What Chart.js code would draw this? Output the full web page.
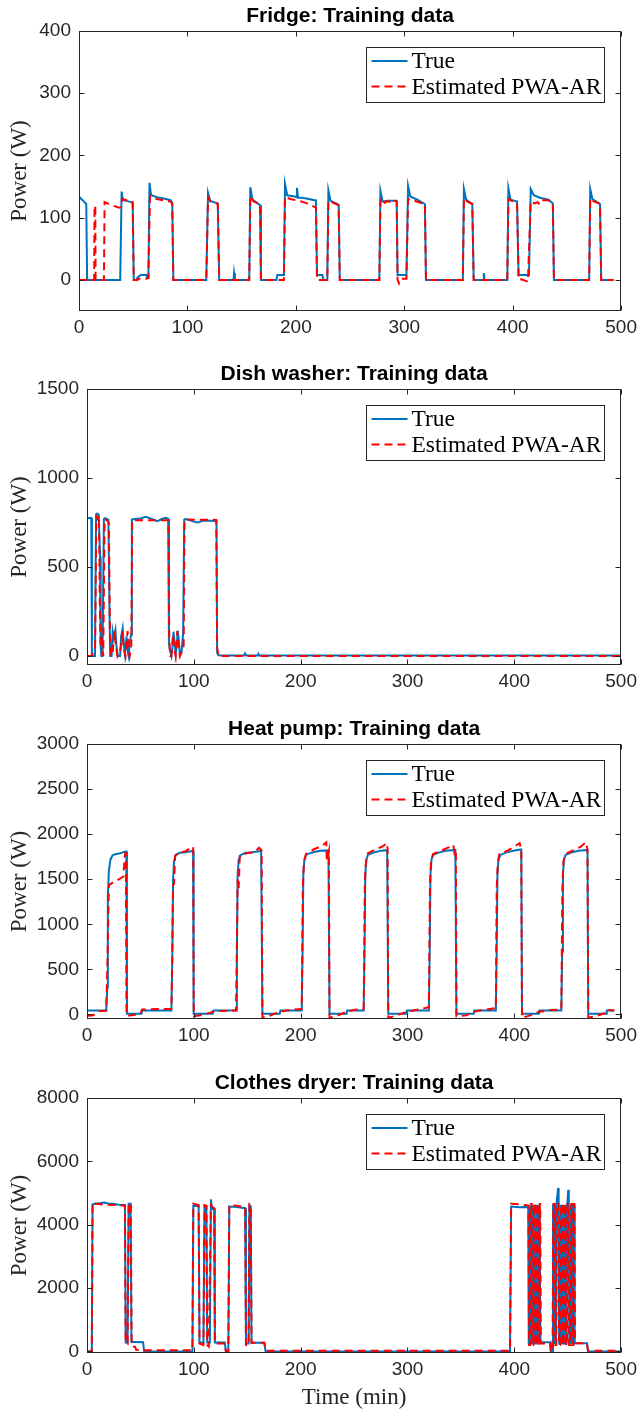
<!DOCTYPE html>
<html><head><meta charset="utf-8">
<script src="https://cdn.jsdelivr.net/npm/chart.js"></script>
<style>
html,body{margin:0;padding:0;background:#fff;width:642px;height:1409px;overflow:hidden}
#wrap{position:relative;width:642px;height:1409px}
#wrap canvas{position:absolute;left:0}
</style></head><body><div id="wrap">
<canvas id="c1"></canvas><canvas id="c2"></canvas><canvas id="c3"></canvas><canvas id="c4"></canvas>
</div>
<script>
// ---------- tick labels ----------
const timeTicks = [0,100,200,300,400,500];
const fridgeTicks = [0,100,200,300,400];
const dishTicks = [0,500,1000,1500];
const heatTicks = [0,500,1000,1500,2000,2500,3000];
const dryerTicks = [0,2000,4000,6000,8000];
const seriesLabels = ['True','Estimated PWA-AR'];

// ---------- series values [time (min), power (W)] ----------
const fridgeTrue = [[0,134],[2,130],[4,127],[6.7,122],[7.5,0],[38,0],[39.3,142],[40.5,128],[44,127],[48,125],[49.5,124],[50.5,0],[53,0],[54,4],[57,8],[62,8],[63,3],[64,3],[65,156],[66.5,136],[72,133],[80,130],[84.5,128],[86,124],[87,0],[117.4,0],[119,140],[121,127],[128,123],[129.3,0],[142.5,0],[143,11],[143.8,0],[157,0],[158,149],[160,129],[167,120],[167.8,0],[182,0],[183,8],[189,8],[190,154],[192,136],[199,134],[200.5,133],[201,148],[202,132],[206,132],[212,130],[217,128],[218.5,128],[219.5,8],[224.5,8],[225.5,0],[229,0],[230,144],[232,127],[238,122],[239.5,120],[240.5,0],[277,0],[278,143],[280,126],[285,127],[290,127],[293,127],[293.8,8],[302,8],[303.5,151],[305.5,134],[312,129],[319,122],[320,0],[354,0],[355,146],[357,129],[362.7,122],[364,0],[373,0],[373.4,11],[374,0],[395,0],[396,147],[398,129],[404,126],[405.4,8],[415,8],[416.6,146],[419.5,136],[425,132],[433,129],[437,123],[438,0],[470.5,0],[471.5,146],[473.5,130],[480.5,122],[481.6,0],[493,0]];
const fridgeEst = [[0,0],[14,0],[14.3,119],[15,119],[15.3,0],[23,0],[23.6,125],[30,120],[37,116],[38.8,117],[39.8,130],[44,128],[48,126],[49.5,125],[50.5,0],[54,0],[55,2],[62,2],[64,3],[65.5,135],[72,130],[80,127],[84.5,126],[86,122],[87,0],[117.4,0],[119,133],[121,126],[128,122],[129.3,0],[157,0],[158,135],[161,126],[167,122],[167.8,0],[189,0],[190,133],[195,130],[205,126],[212,122],[218.5,116],[219.5,0],[229,0],[230,127],[233,125],[239.5,120],[240.5,0],[277,0],[278,131],[282,124],[285,127],[288,123],[291,127],[293,126],[293.8,0],[295,-5],[296,2],[302,2],[303.5,130],[308,128],[315,124],[319,122],[320,0],[354,0],[355,131],[358,126],[362.7,122],[364,0],[395,0],[396,130],[399,127],[404,124],[405.4,0],[408,1],[414,-3],[416.6,126],[420,123],[423,125],[425,121],[428,128],[433,128],[437,123],[438,0],[470.5,0],[471.5,131],[474,127],[480.5,122],[481.6,0],[493,0]];

const dishTrue = [[0,776],[4,776],[4.6,0],[7.5,0],[8.5,790],[9.5,800],[11,795],[12.2,560],[12.8,50],[13.5,0],[14.5,0],[15.8,770],[17,775],[20,765],[21.2,200],[21.7,0],[23,0],[24,137],[25,100],[26.6,147],[27.5,60],[28.8,0],[31,0],[32,110],[33.4,156],[34.5,60],[35.5,10],[37,109],[38.3,20],[39,0],[40,71],[41.2,120],[42,767],[45,770],[50,773],[55,782],[60,772],[66,758],[70,770],[74,776],[76,770],[76.7,80],[77.5,34],[79,0],[80,50],[81,137],[82,80],[83,10],[84,60],[85,143],[86,80],[87,10],[88.5,20],[90,128],[91,767],[92,770],[95,766],[100,755],[104,750],[108,760],[112,762],[116,760],[120,758],[121.2,758],[121.8,20],[123,5],[130,4],[147,4],[148,15],[149,4],[160,4],[160.5,12],[161.2,4],[500,4]];
const dishEst = [[0,0],[4,0],[5,10],[6,20],[7.5,30],[8.7,784],[10,770],[11.2,790],[12,300],[12.7,50],[13.5,120],[14.2,50],[15.2,0],[16.5,770],[18,765],[20.5,750],[21.5,100],[22.5,0],[24,20],[25.6,140],[27,60],[28.5,0],[30,20],[31.5,40],[33,140],[34.5,40],[36,0],[38,140],[39,40],[40,0],[41.5,60],[42.3,763],[76.3,763],[77,100],[78,0],[79,0],[80.5,120],[82,30],[83,0],[84.5,140],[86,40],[87,0],[89,30],[90.5,60],[91.3,767],[121,765],[121.8,50],[123,0],[500,0]];

const heatTrue = [[0,44],[18,44],[19,300],[19.5,1300],[20.5,1600],[22,1720],[24,1765],[26.6,1778],[30,1785],[33,1795],[36,1808],[36.8,1808],[37.4,7],[51,7],[51.5,44],[79,44],[79.8,600],[80.6,1500],[81.5,1700],[83,1770],[87,1793],[92,1800],[98.7,1812],[99.3,1812],[99.8,7],[117.7,7],[118.3,44],[139.5,44],[140.3,700],[141,1550],[142,1720],[144,1770],[148,1790],[155,1800],[163,1815],[163.6,1815],[164.2,7],[180.4,7],[181,44],[201,44],[201.8,700],[202.5,1550],[203.5,1720],[205,1770],[210,1795],[218,1815],[226,1820],[226.4,1820],[227,7],[243,7],[243.5,44],[259,44],[259.8,700],[260.5,1550],[261.5,1720],[263,1770],[268,1795],[275,1815],[281,1822],[281.4,1822],[282,7],[299,7],[299.5,44],[320,44],[320.8,700],[321.5,1550],[322.5,1720],[324,1770],[329,1795],[336,1815],[344.8,1825],[345.2,1825],[345.8,7],[362,7],[362.5,44],[382.7,44],[383.5,700],[384.2,1550],[385.2,1720],[387,1770],[392,1795],[399,1815],[406,1830],[406.5,1830],[407.2,7],[423,7],[423.5,44],[444,44],[444.8,700],[445.5,1550],[446.5,1720],[448,1770],[453,1795],[460,1815],[468,1825],[468.5,1825],[469.2,7],[486,7],[486.5,44],[493.6,44]];
const heatEst = [[0,-15],[5,-10],[9,10],[11,35],[18,44],[19,500],[20.5,1435],[25,1470],[30,1500],[34,1528],[35,1700],[35.8,1790],[36.4,1790],[37,-10],[40,-10],[50,5],[51.5,55],[65,60],[79,62],[79.8,600],[80.5,1435],[81.5,1450],[82.5,1760],[85,1785],[92,1810],[98.7,1860],[99.4,1860],[100,-20],[110,0],[118,30],[125,40],[139.5,44],[140.3,700],[141,1500],[142,1400],[143,1760],[150,1790],[157,1800],[161,1850],[163.5,1820],[164.2,-37],[170,-20],[180,30],[190,50],[201,62],[202,1400],[203,1680],[205,1780],[212,1830],[220,1870],[224,1910],[224.5,1700],[226.4,1810],[227,-37],[235,-10],[243,30],[250,50],[259,62],[260,1400],[261,1680],[263,1790],[270,1830],[276,1860],[281,1900],[281.4,1820],[282,-37],[290,-10],[299,30],[310,55],[320,80],[321,1400],[322,1700],[324,1780],[330,1810],[338,1850],[343,1880],[344,1790],[345.3,1820],[345.8,-20],[355,-10],[362,30],[370,50],[382.7,70],[383.5,1400],[384.5,1680],[386,1780],[394,1820],[400,1860],[405,1900],[406.5,1830],[407.2,-37],[415,-10],[423,30],[435,50],[444,55],[445,1400],[446,1700],[448,1780],[455,1820],[462,1860],[467,1910],[468.5,1830],[469.2,-37],[477,-15],[486,20],[487,50],[493.6,44]];

const dryerTrue = [[0,0],[4.5,0],[5.2,4640],[8,4660],[12,4680],[16,4700],[20,4670],[25,4650],[30,4630],[35.5,4620],[36.2,280],[38,280],[39,4660],[40.8,4660],[41.6,300],[45,300],[52.5,290],[53.5,0],[98.7,0],[99.5,4600],[104.5,4580],[105.3,280],[109,280],[110,4600],[111.8,4580],[112.5,280],[115,280],[116,4800],[117,4500],[119,4520],[119.7,280],[129,280],[130,0],[132.3,0],[133.2,4575],[140,4560],[148,4520],[148.8,250],[151.3,250],[152,4600],[153.3,4580],[154,270],[166,270],[167.2,0],[396,0],[397,4575],[405,4550],[410,4560],[413,4550],[413.5,250],[414.5,250],[415,4600],[416,4600],[416.5,250],[417.5,250],[418,4600],[419,4600],[419.5,250],[420.5,250],[421,4600],[422,4600],[422.5,250],[423,250],[423.5,4600],[424,4600],[424.5,290],[433.5,290],[434.2,0],[435.5,0],[436.2,4600],[437.5,4600],[438,250],[439,250],[439.5,4650],[441,5160],[441.5,4650],[442,250],[443,250],[443.5,4600],[444.5,4600],[445,250],[446,250],[446.5,4600],[447.5,4600],[448,250],[449,250],[449.5,4600],[450.5,5100],[451,4600],[451.5,250],[452.5,250],[453,4600],[454,4600],[454.5,250],[455,250],[455.5,4600],[456,4600],[456.5,260],[468,260],[469,0],[500,0]];
const dryerEst = [[0,0],[4.5,0],[5.2,4700],[10,4650],[20,4630],[30,4620],[35.5,4600],[36.2,300],[38,250],[39,4680],[41,4660],[41.8,200],[43,150],[45,150],[46,50],[50,40],[98.7,40],[99.5,4660],[104.5,4620],[105.3,250],[109,200],[110,4620],[111.8,4600],[112.5,200],[114,150],[116,4620],[119,4500],[119.7,250],[129,250],[130,0],[132.3,0],[133.2,4620],[140,4600],[148,4560],[148.8,200],[151.3,200],[152,4650],[153.3,4620],[154,270],[166,270],[167.2,20],[396,20],[397,4660],[405,4640],[410,4620],[413.3,4600],[413.8,200],[414.8,200],[415.3,4650],[416.3,4650],[416.8,200],[417.8,200],[418.3,4650],[419.3,4650],[419.8,200],[420.8,200],[421.3,4650],[422.3,4650],[422.8,200],[423.3,200],[423.8,4650],[424.3,4650],[424.8,250],[433.5,250],[434.2,0],[435.8,0],[436.5,4650],[437.8,4650],[438.3,200],[439.3,200],[439.8,4650],[441.3,4650],[441.8,200],[442.8,200],[443.8,4650],[444.8,4650],[445.3,200],[446.3,200],[446.8,4650],[447.8,4650],[448.3,200],[449.3,200],[449.8,4650],[450.8,4650],[451.3,200],[452.8,200],[453.3,4650],[454.3,4650],[454.8,200],[455.3,200],[455.8,4650],[456.3,4650],[456.8,260],[468,260],[469,20],[500,20]];

// ---------- drawing ----------
const AX = '#262626';
const toPts = arr => arr.map(p => ({x: p[0], y: p[1]}));

const boxPlugin = {
  id: 'matlabBox',
  afterDatasetsDraw(chart) {
    const {ctx, chartArea: a, scales} = chart;
    const L = Math.round(a.left) + 0.5, R = Math.round(a.right) - 0.5, T = Math.round(a.top) + 0.5, B = Math.round(a.bottom) - 0.5;
    ctx.save();
    ctx.strokeStyle = AX; ctx.lineWidth = 1; ctx.setLineDash([]);
    ctx.strokeRect(L, T, R - L, B - T);
    const tl = 5;
    ctx.beginPath();
    scales.x.ticks.forEach(t => {
      const px = Math.round(scales.x.getPixelForValue(t.value)) + 0.5;
      ctx.moveTo(px, B); ctx.lineTo(px, B - tl);
      ctx.moveTo(px, T); ctx.lineTo(px, T + tl);
    });
    scales.y.ticks.forEach(t => {
      const py = Math.round(scales.y.getPixelForValue(t.value)) + 0.5;
      ctx.moveTo(L, py); ctx.lineTo(L + tl, py);
      ctx.moveTo(R, py); ctx.lineTo(R - tl, py);
    });
    ctx.stroke();
    ctx.restore();
  }
};

const legendPlugin = {
  id: 'insideLegend',
  afterDraw(chart) {
    const {ctx, chartArea: a} = chart;
    const w = 238, h = 55;
    const bx = Math.round(a.right - 17 - w) + 0.5, by = Math.round(a.top + 16) + 0.5;
    ctx.save();
    ctx.fillStyle = '#fff'; ctx.fillRect(bx, by, w, h);
    ctx.strokeStyle = AX; ctx.lineWidth = 1; ctx.strokeRect(bx, by, w, h);
    chart.data.datasets.forEach((ds, i) => {
      const yy = by + 13.5 + i * 25.5;
      ctx.strokeStyle = ds.borderColor; ctx.lineWidth = 2;
      ctx.setLineDash(ds.borderDash || []);
      ctx.beginPath(); ctx.moveTo(bx + 5, yy); ctx.lineTo(bx + 41, yy); ctx.stroke();
      ctx.setLineDash([]);
      ctx.fillStyle = '#000'; ctx.font = '23.5px "Liberation Serif"'; ctx.textBaseline = 'middle'; ctx.textAlign = 'left';
      ctx.fillText(ds.label, bx + 45, yy + 1);
    });
    ctx.restore();
  }
};

function makeChart(id, o) {
  const cv = document.getElementById(id);
  const canvasTop = o.top - 30;
  const xH = o.xTitle ? 1409 - o.bottom : 35;
  const H = o.bottom - canvasTop + xH;
  cv.width = 642; cv.height = H;
  cv.style.top = canvasTop + 'px'; cv.style.width = '642px'; cv.style.height = H + 'px';
  const tickFont = {family: '"Liberation Sans", Arial, sans-serif', size: 19};
  return new Chart(cv, {
    type: 'line',
    data: {datasets: [
      {label: seriesLabels[0], data: toPts(o.trueData), borderColor: '#0072BD', borderWidth: 2, pointRadius: 0, tension: 0, fill: false, order: 1},
      {label: seriesLabels[1], data: toPts(o.estData), borderColor: '#FF0000', borderWidth: 2, borderDash: [8, 5], pointRadius: 0, tension: 0, fill: false, order: 0}
    ]},
    options: {
      responsive: false, animation: false, devicePixelRatio: 1, events: [],
      layout: {padding: {left: 0, right: 642 - 626, top: 0, bottom: 0}},
      plugins: {
        legend: {display: false}, tooltip: {enabled: false},
        title: {display: true, text: o.title, fullSize: false, color: '#000',
          font: {family: '"Liberation Sans", Arial, sans-serif', size: 21, weight: 'bold', lineHeight: 1.2},
          padding: {top: 2.4, bottom: 2.4}}
      },
      scales: {
        x: {type: 'linear', min: 0, max: 500,
          afterBuildTicks: s => { s.ticks = timeTicks.map(v => ({value: v})); },
          afterFit: s => { s.height = xH; },
          grid: {display: false, drawTicks: false}, border: {display: false},
          ticks: {padding: 5, color: AX, font: tickFont, maxRotation: 0, autoSkip: false, callback: v => String(v)},
          title: {display: !!o.xTitle, text: o.xTitle || '', color: AX,
            font: {family: '"Liberation Serif", serif', size: 23, lineHeight: 1}, padding: {top: 0, bottom: 0}}
        },
        y: {type: 'linear', min: o.yMin, max: o.yMax,
          afterBuildTicks: s => { s.ticks = o.yTicks.map(v => ({value: v})); },
          afterFit: s => { s.width = o.left; },
          grid: {display: false, drawTicks: false}, border: {display: false},
          ticks: {padding: 8, color: AX, font: tickFont, autoSkip: false, callback: v => String(v)},
          title: {display: true, text: 'Power (W)', color: AX,
            font: {family: '"Liberation Serif", serif', size: 23, lineHeight: 1.2}, padding: {top: 6.2, bottom: 0}}
        }
      }
    },
    plugins: [boxPlugin, legendPlugin]
  });
}

makeChart('c1', {top: 31, bottom: 311, left: 79, title: 'Fridge: Training data', yMin: -50, yMax: 400, yTicks: fridgeTicks, trueData: fridgeTrue, estData: fridgeEst});
makeChart('c2', {top: 389, bottom: 665, left: 87, title: 'Dish washer: Training data', yMin: -50, yMax: 1500, yTicks: dishTicks, trueData: dishTrue, estData: dishEst});
makeChart('c3', {top: 744, bottom: 1019, left: 87, title: 'Heat pump: Training data', yMin: -50, yMax: 3000, yTicks: heatTicks, trueData: heatTrue, estData: heatEst});
makeChart('c4', {top: 1098, bottom: 1353, left: 87, title: 'Clothes dryer: Training data', yMin: -50, yMax: 8000, yTicks: dryerTicks, trueData: dryerTrue, estData: dryerEst, xTitle: 'Time (min)'});
</script>
</body></html>
